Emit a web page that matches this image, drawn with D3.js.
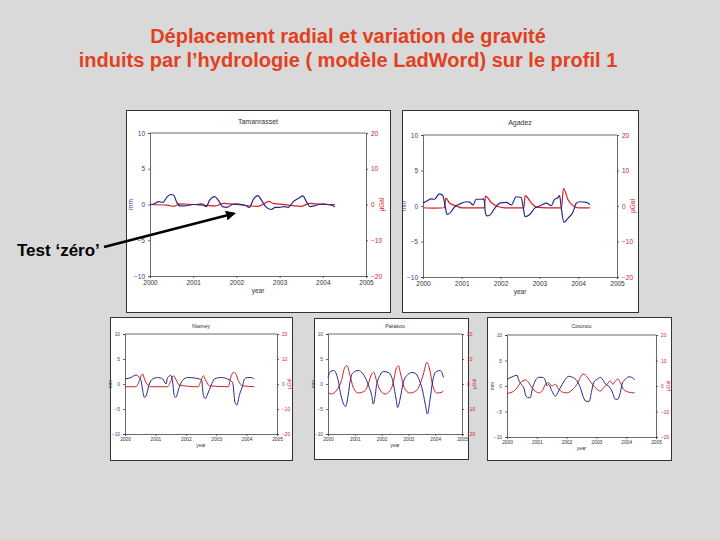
<!DOCTYPE html>
<html><head><meta charset="utf-8">
<script src="https://cdn.jsdelivr.net/npm/d3@7"></script>
<style>
html,body{margin:0;padding:0;background:#d9d9d9;}
svg{display:block;font-family:"Liberation Sans",Arial,sans-serif;}
</style></head>
<body><svg id="c" width="720" height="540"></svg>
<script>
// ---------- data ----------
const titleLines = ["Déplacement radial et variation de gravité",
                    "induits par l’hydrologie ( modèle LadWord) sur le profil 1"];
const sideNote = "Test ‘zéro’";
const stations = ["Tamanrasset", "Agadez", "Niamey", "Parakou", "Cotonou"];
const yearTicks = [2000, 2001, 2002, 2003, 2004, 2005];
const mmTicks = [-10, -5, 0, 5, 10];
const ugalTicks = [-20, -10, 0, 10, 20];

// Tamanrasset
const tamBlueT = [2000.0,2000.1,2000.2,2000.3,2000.4,2000.48,2000.55,2000.62,2000.7,2000.8,2000.9,2001.0,2001.1,2001.2,2001.3,2001.38,2001.5,2001.58,2001.68,2001.78,2001.9,2002.0,2002.1,2002.2,2002.3,2002.4,2002.5,2002.58,2002.68,2002.8,2002.9,2003.0,2003.1,2003.2,2003.32,2003.45,2003.54,2003.62,2003.7,2003.8,2003.9,2004.0,2004.1,2004.2,2004.28];
const tamBlue  = [0,0.1,0.4,0.3,1.1,1.4,1.3,0.3,-0.2,-0.2,-0.1,0,0,0.1,-0.3,0.6,1.1,0.6,-0.3,-0.4,0,0.1,0,-0.1,-0.4,0.8,1.25,0.6,-0.3,-0.7,-0.4,-0.4,-0.3,-0.4,0.4,0.9,1.2,0.4,-0.3,-0.2,0,0.1,0,-0.1,-0.3];
const tamRedT  = [2000.0,2000.4,2000.55,2000.7,2001.0,2001.5,2001.7,2002.0,2002.5,2002.65,2002.75,2002.85,2003.0,2003.5,2003.7,2004.0,2004.28];
const tamRed   = [0,-0.2,-0.5,0.2,0,-0.4,0.3,0,-0.5,0.3,0.9,0.3,0.1,-0.5,0.3,0,0];

// Agadez
const agaBlueT = [2000.0,2000.1,2000.21,2000.3,2000.39,2000.43,2000.51,2000.58,2000.62,2000.69,2000.82,2000.95,2001.12,2001.2,2001.29,2001.37,2001.5,2001.57,2001.61,2001.65,2001.72,2001.85,2001.98,2002.15,2002.28,2002.4,2002.53,2002.58,2002.63,2002.75,2002.88,2003.0,2003.18,2003.31,2003.38,2003.48,2003.52,2003.56,2003.63,2003.74,2003.87,2003.95,2004.04,2004.21,2004.3];
const agaBlue  = [0.4,0.7,1.0,0.95,1.6,1.7,1.45,-0.3,-1.2,-1.0,-0.1,0.3,0.6,0.55,0.15,0.95,0.95,1.0,-1.0,-1.4,-1.3,-0.3,0.4,0.5,0.15,1.3,1.2,-0.1,-1.5,-1.2,-0.3,0,0.4,0.05,0.85,1.2,1.45,-0.1,-2.3,-1.7,-0.8,0.4,0.6,0.5,0.2];
const agaRedT  = [2000.0,2000.3,2000.55,2000.59,2000.69,2000.86,2001.0,2001.58,2001.61,2001.76,2001.89,2002.1,2002.6,2002.63,2002.8,2002.92,2003.2,2003.57,2003.62,2003.74,2003.87,2004.0,2004.3];
const agaRed   = [-0.5,-0.6,-0.5,2.2,0.75,0,-0.5,-0.5,2.8,1.0,0,-0.5,-0.5,2.9,0.75,-0.3,-0.5,-0.5,5.0,1.7,0.1,-0.5,-0.5];

// Niamey
const niaBlueT = [2000.0,2000.2,2000.36,2000.47,2000.53,2000.58,2000.64,2000.69,2000.8,2000.91,2001.07,2001.24,2001.35,2001.4,2001.51,2001.56,2001.62,2001.67,2001.78,2001.89,2002.06,2002.28,2002.45,2002.52,2002.58,2002.64,2002.72,2002.83,2002.94,2003.16,2003.38,2003.54,2003.62,2003.68,2003.76,2003.87,2003.93,2004.04,2004.14,2004.25];
const niaBlue  = [1.0,1.3,1.8,1.3,0.6,-1.2,-2.7,-2.4,0,1.0,1.3,1.0,0,1.3,1.7,0.7,-2.3,-2.7,-0.7,0.7,1.3,1.2,1.0,0.7,-2.3,-2.9,-2.0,-0.3,1.0,1.3,1.0,0.3,-3.7,-4.2,-2.3,-0.3,1.0,1.3,1.3,1.0];
const niaRedT  = [2000.0,2000.36,2000.47,2000.53,2000.58,2000.64,2000.75,2000.85,2001.4,2001.51,2001.59,2001.67,2001.78,2002.4,2002.5,2002.58,2002.66,2002.78,2003.4,2003.48,2003.57,2003.65,2003.73,2003.87,2004.25];
const niaRed   = [-1.1,-1.1,1.3,3.3,4.0,2.0,-0.4,-1.1,-1.1,1.3,3.3,2.0,-0.4,-1.1,1.3,3.3,1.3,-0.7,-1.1,2.7,4.7,4.0,1.3,-0.7,-1.1];

// Parakou
const parBlueT = [2000.0,2000.09,2000.21,2000.31,2000.38,2000.46,2000.56,2000.66,2000.75,2000.84,2000.94,2001.13,2001.31,2001.44,2001.54,2001.63,2001.69,2001.75,2001.81,2001.94,2002.06,2002.25,2002.38,2002.44,2002.54,2002.6,2002.69,2002.81,2002.94,2003.13,2003.29,2003.41,2003.5,2003.63,2003.71,2003.81,2003.91,2004.04,2004.19,2004.31];
const parBlue  = [1.3,2.5,2.7,2.0,0.7,-1.7,-3.7,-4.5,-2.3,1.0,2.3,2.7,2.0,0.7,-0.7,-2.3,-4.0,-2.7,-0.3,1.7,2.5,2.3,1.3,0,-3.0,-4.7,-3.0,0.3,1.7,2.3,2.0,0.7,-0.7,-4.0,-6.0,-3.0,0.7,2.5,2.7,1.3];
const parRedT  = [2000.0,2000.13,2000.31,2000.5,2000.63,2000.71,2000.81,2000.94,2001.13,2001.38,2001.5,2001.63,2001.71,2001.81,2001.94,2002.13,2002.31,2002.44,2002.54,2002.63,2002.71,2002.84,2003.04,2003.29,2003.44,2003.56,2003.69,2003.79,2003.91,2004.06,2004.25,2004.31];
const parRed   = [-3.3,-4.0,-2.7,1.3,6.7,7.3,4.0,-1.3,-3.6,-2.7,0,4.0,4.7,1.3,-2.3,-4.0,-2.7,0.7,6.0,7.3,4.0,-1.3,-3.6,-2.7,0,4.0,8.7,6.0,-0.7,-3.6,-3.3,-2.7];

// Cotonou
const cotBlueT = [2000.0,2000.17,2000.34,2000.39,2000.48,2000.56,2000.62,2000.7,2000.78,2000.86,2000.95,2001.06,2001.2,2001.29,2001.34,2001.4,2001.51,2001.62,2001.73,2001.85,2001.96,2002.07,2002.2,2002.35,2002.46,2002.57,2002.65,2002.76,2002.83,2002.91,2003.02,2003.13,2003.24,2003.32,2003.41,2003.52,2003.64,2003.72,2003.8,2003.88,2003.97,2004.08,2004.19,2004.28];
const cotBlue  = [1.3,1.8,2.1,1.2,0.3,-0.3,-1.7,-2.3,-2.3,-0.3,1.0,1.7,1.7,1.0,0,0.3,-1.0,-2.0,-1.0,0.3,1.3,1.9,1.7,1.0,-0.3,-2.3,-3.0,-3.0,-1.3,0.7,1.3,1.7,1.0,0.3,0,-1.0,-2.6,-2.6,-1.3,0.7,1.3,1.8,1.7,1.2];
const cotRedT  = [2000.0,2000.17,2000.34,2000.45,2000.53,2000.62,2000.73,2000.84,2000.95,2001.06,2001.2,2001.29,2001.4,2001.51,2001.62,2001.73,2001.86,2002.01,2002.18,2002.35,2002.46,2002.55,2002.63,2002.74,2002.83,2002.91,2003.02,2003.13,2003.24,2003.36,2003.47,2003.55,2003.64,2003.72,2003.8,2003.91,2004.08,2004.28];
const cotRed   = [-2.9,-2.4,-0.7,1.3,2.0,2.4,1.3,-0.7,-2.0,-2.7,-1.6,0.7,1.3,0,0.7,-1.1,-2.4,-2.7,-1.6,0.7,3.3,4.7,4.3,2.7,1.3,0,-1.3,-2.0,-0.7,0.7,2.0,0.7,2.0,2.7,1.3,-1.3,-2.4,-2.7];

// ---------- layout ----------
const panels = [
  {box:[126,110,390,312], plot:[150,133,366,276], fs:6.5, bT:tamBlueT, b:tamBlue, rT:tamRedT, r:tamRed},
  {box:[402,110,638,312], plot:[423,135,617,277], fs:6.5, bT:agaBlueT, b:agaBlue, rT:agaRedT, r:agaRed},
  {box:[110,317,292,460], plot:[125,334,277,434], fs:4.8, bT:niaBlueT, b:niaBlue, rT:niaRedT, r:niaRed},
  {box:[314,318,468,459], plot:[328,334,462,434], fs:4.8, bT:parBlueT, b:parBlue, rT:parRedT, r:parRed},
  {box:[487,317,671,460], plot:[507,335,656,437], fs:4.8, bT:cotBlueT, b:cotBlue, rT:cotRedT, r:cotRed}
];
const BLUE = "#27278f", RED = "#d02020", AXIS = "#444";

const svg = d3.select("#c");
svg.append("rect").attr("width",720).attr("height",540).attr("fill","#d9d9d9");

// title
const tt = svg.append("text").attr("text-anchor","middle").attr("fill","#e2401e")
  .attr("font-weight","bold").attr("font-size",20);
tt.append("tspan").attr("x",348).attr("y",43).text(titleLines[0]);
tt.append("tspan").attr("x",348).attr("y",67).text(titleLines[1]);

svg.append("text").attr("x",17).attr("y",256).attr("font-weight","bold")
  .attr("font-size",17).attr("fill","#000").text(sideNote);

panels.forEach((p, i) => {
  const g = svg.append("g");
  const [bx0,by0,bx1,by1] = p.box, [px0,py0,px1,py1] = p.plot;
  g.append("rect").attr("x",bx0+0.5).attr("y",by0+0.5).attr("width",bx1-bx0).attr("height",by1-by0)
    .attr("fill","#fff").attr("stroke","#333").attr("stroke-width",1);
  const x = d3.scaleLinear().domain([2000,2005]).range([px0,px1]);
  const yL = d3.scaleLinear().domain([-10,10]).range([py1,py0]);
  const yR = d3.scaleLinear().domain([-20,20]).range([py1,py0]);
  const fs = p.fs;
  g.append("line").attr("x1",px0).attr("x2",px1).attr("y1",py0).attr("y2",py0).attr("stroke",AXIS).attr("stroke-width",0.8);
  const ax = (sel, col) => { sel.selectAll("path,line").attr("stroke",AXIS).attr("stroke-width",0.8);
    sel.selectAll("text").attr("font-size",fs).attr("fill",col).attr("font-family","Liberation Sans, Arial, sans-serif"); };
  g.append("g").attr("transform",`translate(0,${py1})`)
    .call(d3.axisBottom(x).tickValues(yearTicks).tickFormat(d3.format("d")).tickSize(2).tickPadding(2))
    .call(s => ax(s, "#333"));
  g.append("g").attr("transform",`translate(${px0},0)`)
    .call(d3.axisLeft(yL).tickValues(mmTicks).tickSize(2).tickPadding(3))
    .call(s => ax(s, "#3a3a8a"));
  g.append("g").attr("transform",`translate(${px1},0)`)
    .call(d3.axisRight(yR).tickValues(ugalTicks).tickSize(2).tickPadding(3))
    .call(s => ax(s, RED));
  g.append("text").attr("x",(px0+px1)/2).attr("y",(by0+py0)/2+2).attr("text-anchor","middle")
    .attr("font-size",fs+0.5).attr("fill","#333").text(stations[i]);
  g.append("text").attr("x",(px0+px1)/2).attr("y",py1+fs*2.3+2).attr("text-anchor","middle")
    .attr("font-size",fs).attr("fill","#333").text("year");
  g.append("text").attr("transform",`translate(${px0-fs*2.3-2},${yL(0)}) rotate(-90)`).attr("text-anchor","middle")
    .attr("font-size",fs).attr("fill","#3a3a8a").text("mm");
  g.append("text").attr("transform",`translate(${px1+fs*2.3+3},${yR(0)}) rotate(-90)`).attr("text-anchor","middle")
    .attr("font-size",fs).attr("fill",RED).text("µGal");
  const lw = i < 2 ? 1.2 : 1;
  const lineB = d3.line().x(d => x(d[0])).y(d => yL(d[1])).curve(d3.curveMonotoneX);
  const lineR = d3.line().x(d => x(d[0])).y(d => yR(d[1])).curve(d3.curveMonotoneX);
  g.append("path").attr("d", lineR(p.rT.map((t,k)=>[t,p.r[k]]))).attr("fill","none").attr("stroke",RED).attr("stroke-width",lw);
  g.append("path").attr("d", lineB(p.bT.map((t,k)=>[t,p.b[k]]))).attr("fill","none").attr("stroke",BLUE).attr("stroke-width",lw);
});

// arrow
const defs = svg.append("defs");
defs.append("marker").attr("id","ah").attr("viewBox","0 0 10 10").attr("refX",8).attr("refY",5)
  .attr("markerWidth",4).attr("markerHeight",4).attr("orient","auto")
  .append("path").attr("d","M0,0L10,5L0,10z").attr("fill","#000");
svg.append("line").attr("x1",104).attr("y1",247).attr("x2",234).attr("y2",213.5)
  .attr("stroke","#000").attr("stroke-width",2.5).attr("marker-end","url(#ah)");
</script></body></html>
